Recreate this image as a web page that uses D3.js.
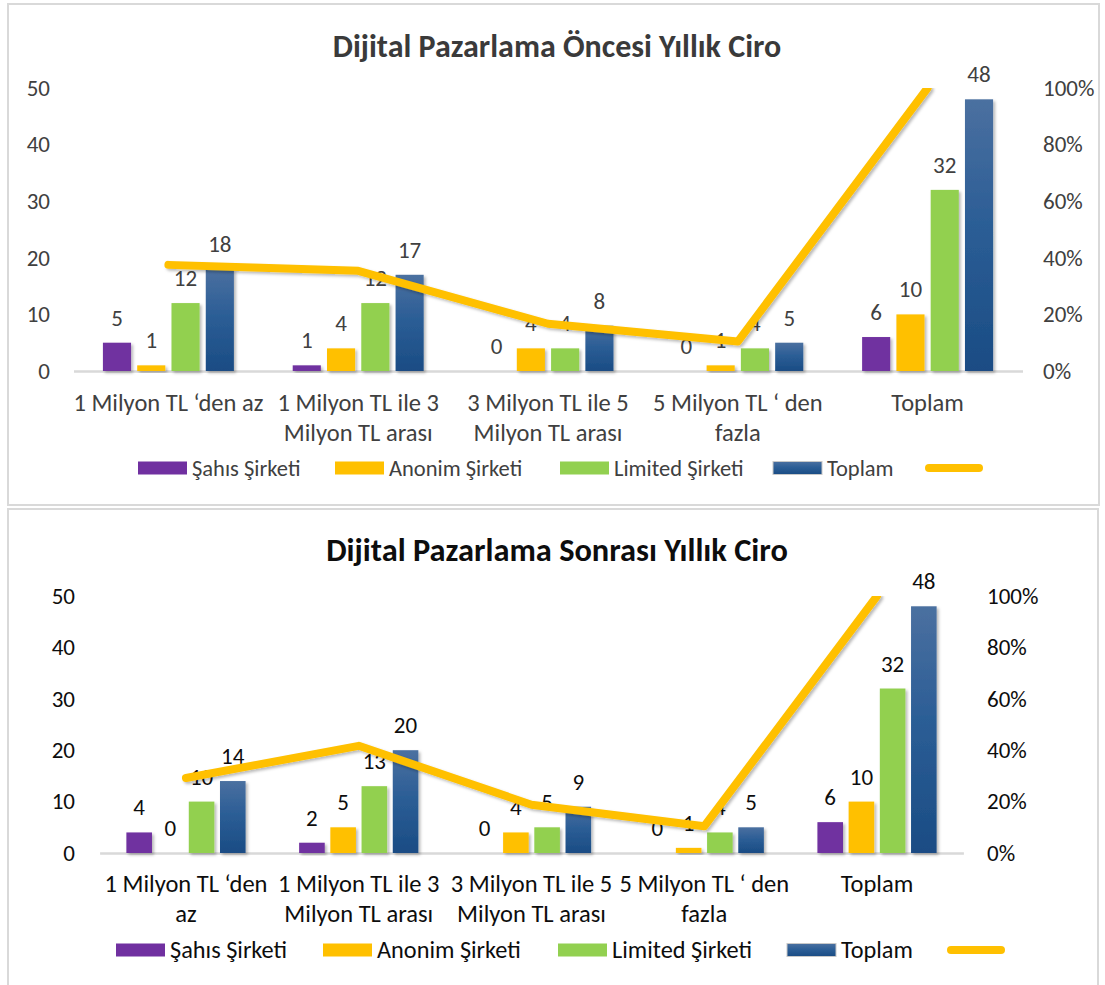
<!DOCTYPE html>
<html>
<head>
<meta charset="utf-8">
<script src="https://cdn.jsdelivr.net/npm/d3@7"></script>
<style>
  body { margin: 0; background: #fff; }
  text { font-family: Carlito, Lato, "Noto Sans", sans-serif; }
</style>
</head>
<body>
<svg id="chart" width="1105" height="985"></svg>
<script>
// series + categories
const seriesNames = ["Şahıs Şirketi", "Anonim Şirketi", "Limited Şirketi", "Toplam"];

const catsBefore = ["1 Milyon TL ‘den az", "1 Milyon TL ile 3\nMilyon TL arası", "3 Milyon TL ile 5\nMilyon TL arası", "5 Milyon TL ‘ den\nfazla", "Toplam"];
const sahisBefore = [5, 1, 0, 0, 6];
const anonimBefore = [1, 4, 4, 1, 10];
const limitedBefore = [12, 12, 4, 4, 32];
const toplamBefore = [18, 17, 8, 5, 48];
const pctBefore = [37.5, 35.4, 16.7, 10.4, 100];

const catsAfter = ["1 Milyon TL ‘den\naz", "1 Milyon TL ile 3\nMilyon TL arası", "3 Milyon TL ile 5\nMilyon TL arası", "5 Milyon TL ‘ den\nfazla", "Toplam"];
const sahisAfter = [4, 2, 0, 0, 6];
const anonimAfter = [0, 5, 4, 1, 10];
const limitedAfter = [10, 13, 5, 4, 32];
const toplamAfter = [14, 20, 9, 5, 48];
const pctAfter = [29.2, 41.7, 18.8, 10.4, 100];

const leftTicks = [0, 10, 20, 30, 40, 50];
const rightTicks = [0, 20, 40, 60, 80, 100];

const colors = ["#7030a0", "#ffc000", "#92d050", "url(#blueGrad)"];
const lineColor = "#ffc000";

const svg = d3.select("#chart");
const defs = svg.append("defs");

const grad = defs.append("linearGradient")
    .attr("id", "blueGrad")
    .attr("x1", 0).attr("y1", 0).attr("x2", 0).attr("y2", 1);
grad.append("stop").attr("offset", "0%").attr("stop-color", "#4b70a0");
grad.append("stop").attr("offset", "45%").attr("stop-color", "#2c5e96");
grad.append("stop").attr("offset", "100%").attr("stop-color", "#1a4c84");

const shadow = defs.append("filter")
    .attr("id", "shadow")
    .attr("x", "-20%").attr("y", "-20%").attr("width", "140%").attr("height", "140%");
shadow.append("feDropShadow")
    .attr("dx", 2).attr("dy", 2).attr("stdDeviation", 1.8)
    .attr("flood-color", "#000").attr("flood-opacity", 0.28);

function drawChart(cfg) {
    const g = svg.append("g");

    // frame
    g.append("rect")
        .attr("x", cfg.frame[0]).attr("y", cfg.frame[1])
        .attr("width", cfg.frame[2]).attr("height", cfg.frame[3])
        .attr("fill", "none")
        .attr("stroke", "#d9d9d9")
        .attr("stroke-width", 2);

    g.append("text")
        .attr("x", cfg.titleX)
        .attr("y", cfg.titleY)
        .attr("text-anchor", "middle")
        .attr("dominant-baseline", "central")
        .attr("font-size", cfg.titleSize)
        .attr("font-weight", "bold")
        .attr("fill", cfg.titleColor)
        .text(cfg.title);

    const rows = cfg.cats.map((c, i) => ({
        cat: c,
        values: cfg.series.map((s, j) => ({ key: seriesNames[j], value: s[i], color: colors[j] })),
        pct: cfg.pct[i]
    }));

    const x0 = d3.scaleBand()
        .domain(cfg.cats)
        .range([cfg.left, cfg.right])
        .paddingInner(0.31)
        .paddingOuter(0.155);
    const x1 = d3.scaleBand()
        .domain(seriesNames)
        .range([0, x0.bandwidth()])
        .paddingInner(0.18);
    const y = d3.scaleLinear().domain([0, 50]).range([cfg.bottom, cfg.top]);
    const yR = d3.scaleLinear().domain([0, 100]).range([cfg.bottom, cfg.top]);

    // left axis
    const ax = g.append("g")
        .attr("transform", `translate(${cfg.left},0)`)
        .call(d3.axisLeft(y).tickValues(leftTicks).tickSize(0).tickPadding(cfg.left - cfg.leftLabelX));
    ax.select(".domain").remove();
    ax.attr("font-family", null);
    ax.selectAll("text").attr("font-size", 23).attr("fill", cfg.textColor);

    // right axis
    const axR = g.append("g")
        .attr("transform", `translate(${cfg.right},0)`)
        .call(d3.axisRight(yR).tickValues(rightTicks).tickSize(0)
            .tickPadding(cfg.rightLabelX - cfg.right).tickFormat(d => d + "%"));
    axR.select(".domain").remove();
    axR.attr("font-family", null);
    axR.selectAll("text").attr("font-size", 23).attr("fill", cfg.textColor);

    // bottom axis (baseline + category labels)
    const axB = g.append("g")
        .attr("transform", `translate(0,${cfg.bottom})`)
        .call(d3.axisBottom(x0).tickSize(0).tickSizeOuter(0).tickPadding(0));
    axB.attr("font-family", null);
    axB.select(".domain").attr("stroke", "#d9d9d9").attr("stroke-width", 2.5);
    axB.selectAll(".tick text").each(function(d) {
        const t = d3.select(this);
        t.text(null).attr("y", 0).attr("dy", null)
            .attr("font-size", 24.5).attr("fill", cfg.textColor);
        d.split("\n").forEach((line, k) => {
            t.append("tspan")
                .attr("x", 0)
                .attr("y", cfg.catY - cfg.bottom + k * 30)
                .attr("dominant-baseline", "central")
                .text(line);
        });
    });

    // bars
    const groups = g.append("g").selectAll("g")
        .data(rows)
        .join("g")
        .attr("transform", d => `translate(${x0(d.cat)},0)`);

    groups.selectAll("rect")
        .data(d => d.values)
        .join("rect")
        .attr("x", d => x1(d.key))
        .attr("y", d => y(d.value))
        .attr("width", x1.bandwidth())
        .attr("height", d => cfg.bottom - y(d.value))
        .attr("fill", d => d.color)
        .attr("filter", d => d.value > 0 ? "url(#shadow)" : null);

    // line (clipped at plot top)
    const clipId = "clip" + cfg.id;
    defs.append("clipPath").attr("id", clipId)
        .append("rect")
        .attr("x", cfg.frame[0]).attr("y", cfg.top)
        .attr("width", cfg.frame[2]).attr("height", cfg.bottom - cfg.top + 40);

    const line = d3.line()
        .x(d => x0(d.cat) + x0.bandwidth() / 2)
        .y(d => yR(d.pct));

    g.append("g").attr("clip-path", `url(#${clipId})`)
        .append("path")
        .datum(rows)
        .attr("d", line)
        .attr("fill", "none")
        .attr("stroke", lineColor)
        .attr("stroke-width", 8)
        .attr("stroke-linecap", "round")
        .attr("stroke-linejoin", "round")
        .attr("filter", "url(#shadow)");

    // data labels
    groups.selectAll("text.lbl")
        .data(d => d.values)
        .join("text")
        .attr("class", "lbl")
        .attr("x", d => x1(d.key) + x1.bandwidth() / 2)
        .attr("y", d => y(d.value) - 25)
        .attr("text-anchor", "middle")
        .attr("dominant-baseline", "central")
        .attr("font-size", 23)
        .attr("fill", cfg.textColor)
        .text(d => d.value);

    // legend
    const items = seriesNames.concat([""]);
    items.forEach((name, i) => {
        const lx = cfg.legendX[i];
        if (i < 4) {
            g.append("rect")
                .attr("x", lx).attr("y", cfg.legendY - 6.5)
                .attr("width", 49).attr("height", 13)
                .attr("fill", colors[i])
                .attr("stroke", i === 3 ? "#c8c8c8" : "none")
                .attr("stroke-width", 1);
            g.append("text")
                .attr("x", lx + 54).attr("y", cfg.legendY)
                .attr("dominant-baseline", "central")
                .attr("font-size", cfg.legendSize)
                .attr("fill", cfg.textColor)
                .text(name);
        } else {
            g.append("line")
                .attr("x1", lx + 4).attr("x2", lx + 54)
                .attr("y1", cfg.legendY).attr("y2", cfg.legendY)
                .attr("stroke", lineColor)
                .attr("stroke-width", 8)
                .attr("stroke-linecap", "round");
        }
    });
}

drawChart({
    id: 1,
    title: "Dijital Pazarlama Öncesi Yıllık Ciro",
    titleX: 557, titleY: 46, titleSize: 32,
    titleColor: "#3a3a3a", textColor: "#404040",
    frame: [8, 4, 1091, 501],
    left: 73.5, right: 1022.5, top: 88, bottom: 371,
    leftLabelX: 50, rightLabelX: 1043,
    catY: 403, legendY: 468, legendSize: 22.5,
    legendX: [138, 335, 560, 773, 925],
    cats: catsBefore,
    series: [sahisBefore, anonimBefore, limitedBefore, toplamBefore],
    pct: pctBefore
});

drawChart({
    id: 2,
    title: "Dijital Pazarlama Sonrası Yıllık Ciro",
    titleX: 557, titleY: 550, titleSize: 32.4,
    titleColor: "#0d0d0d", textColor: "#0d0d0d",
    frame: [8, 509, 1090, 490],
    left: 99.6, right: 963.4, top: 596, bottom: 853,
    leftLabelX: 75, rightLabelX: 987,
    catY: 884, legendY: 950, legendSize: 24.3,
    legendX: [116, 323, 558, 787, 947],
    cats: catsAfter,
    series: [sahisAfter, anonimAfter, limitedAfter, toplamAfter],
    pct: pctAfter
});
</script>
</body>
</html>
